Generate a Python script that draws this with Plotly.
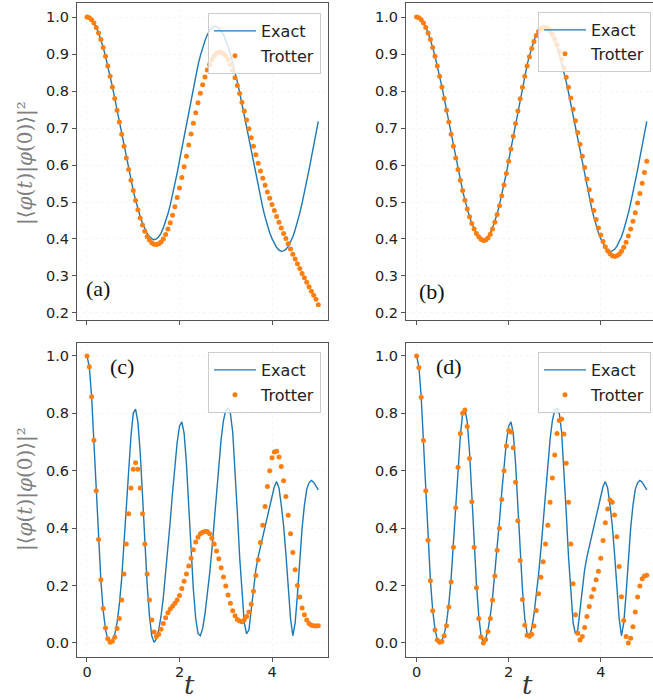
import plotly.graph_objects as go

# ---------------- data ----------------
T = [0.00, 0.05, 0.10, 0.15, 0.20, 0.25, 0.30, 0.35, 0.40, 0.45,
     0.50, 0.55, 0.60, 0.65, 0.70, 0.75, 0.80, 0.85, 0.90, 0.95,
     1.00, 1.05, 1.10, 1.15, 1.20, 1.25, 1.30, 1.35, 1.40, 1.45,
     1.50, 1.55, 1.60, 1.65, 1.70, 1.75, 1.80, 1.85, 1.90, 1.95,
     2.00, 2.05, 2.10, 2.15, 2.20, 2.25, 2.30, 2.35, 2.40, 2.45,
     2.50, 2.55, 2.60, 2.65, 2.70, 2.75, 2.80, 2.85, 2.90, 2.95,
     3.00, 3.05, 3.10, 3.15, 3.20, 3.25, 3.30, 3.35, 3.40, 3.45,
     3.50, 3.55, 3.60, 3.65, 3.70, 3.75, 3.80, 3.85, 3.90, 3.95,
     4.00, 4.05, 4.10, 4.15, 4.20, 4.25, 4.30, 4.35, 4.40, 4.45,
     4.50, 4.55, 4.60, 4.65, 4.70, 4.75, 4.80, 4.85, 4.90, 4.95,
     5.00]

exact_ab = [1.000, 0.998, 0.993, 0.984, 0.972, 0.957, 0.939, 0.918, 0.894, 0.868,
            0.840, 0.811, 0.780, 0.748, 0.716, 0.683, 0.651, 0.619, 0.588, 0.559,
            0.531, 0.505, 0.481, 0.460, 0.442, 0.427, 0.415, 0.407, 0.401, 0.398,
            0.400, 0.406, 0.416, 0.430, 0.448, 0.468, 0.492, 0.519, 0.548, 0.579,
            0.612, 0.645, 0.680, 0.714, 0.748, 0.781, 0.812, 0.842, 0.870, 0.895,
            0.917, 0.936, 0.952, 0.963, 0.971, 0.975, 0.974, 0.970, 0.963, 0.952,
            0.938, 0.921, 0.901, 0.878, 0.852, 0.825, 0.796, 0.765, 0.733, 0.701,
            0.668, 0.635, 0.602, 0.571, 0.540, 0.512, 0.485, 0.459, 0.437, 0.417,
            0.401, 0.387, 0.377, 0.370, 0.367, 0.368, 0.372, 0.380, 0.391, 0.406,
            0.425, 0.446, 0.470, 0.497, 0.525, 0.556, 0.587, 0.620, 0.653, 0.687,
            0.718]

trotter_a = [1.000, 0.998, 0.993, 0.984, 0.972, 0.957, 0.939, 0.918, 0.894, 0.868,
             0.840, 0.811, 0.780, 0.748, 0.716, 0.683, 0.651, 0.619, 0.588, 0.559,
             0.531, 0.504, 0.479, 0.457, 0.438, 0.421, 0.407, 0.397, 0.390, 0.386,
             0.385, 0.387, 0.392, 0.400, 0.412, 0.427, 0.444, 0.464, 0.487, 0.512,
             0.538, 0.566, 0.595, 0.624, 0.654, 0.684, 0.713, 0.741, 0.768, 0.794,
             0.817, 0.838, 0.857, 0.872, 0.885, 0.895, 0.902, 0.905, 0.904, 0.901,
             0.895, 0.885, 0.872, 0.856, 0.836, 0.815, 0.793, 0.770, 0.746, 0.722,
             0.698, 0.674, 0.651, 0.628, 0.605, 0.584, 0.564, 0.545, 0.527, 0.510,
             0.493, 0.477, 0.461, 0.445, 0.430, 0.415, 0.401, 0.387, 0.373, 0.359,
             0.346, 0.333, 0.320, 0.307, 0.295, 0.283, 0.271, 0.259, 0.248, 0.237,
             0.222]

trotter_b = [1.000, 0.998, 0.993, 0.984, 0.972, 0.957, 0.939, 0.918, 0.894, 0.868,
             0.840, 0.811, 0.780, 0.748, 0.716, 0.683, 0.651, 0.619, 0.588, 0.559,
             0.531, 0.505, 0.481, 0.460, 0.442, 0.427, 0.415, 0.406, 0.399, 0.396,
             0.397, 0.403, 0.413, 0.427, 0.445, 0.466, 0.490, 0.517, 0.546, 0.577,
             0.610, 0.643, 0.678, 0.712, 0.746, 0.779, 0.810, 0.840, 0.868, 0.893,
             0.915, 0.934, 0.950, 0.961, 0.969, 0.972, 0.972, 0.969, 0.963, 0.953,
             0.941, 0.925, 0.907, 0.886, 0.863, 0.837, 0.810, 0.781, 0.751, 0.720,
             0.688, 0.656, 0.624, 0.593, 0.562, 0.533, 0.504, 0.477, 0.453, 0.430,
             0.411, 0.393, 0.379, 0.368, 0.360, 0.355, 0.353, 0.355, 0.359, 0.367,
             0.378, 0.391, 0.408, 0.427, 0.448, 0.471, 0.497, 0.523, 0.551, 0.580,
             0.610]

exact_cd = [1.000, 0.962, 0.858, 0.706, 0.532, 0.360, 0.218, 0.114, 0.047, 0.011,
            0.002, 0.008, 0.030, 0.070, 0.135, 0.225, 0.345, 0.475, 0.605, 0.720,
            0.800, 0.815, 0.770, 0.665, 0.515, 0.355, 0.205, 0.095, 0.025, 0.002,
            0.014, 0.045, 0.093, 0.158, 0.240, 0.330, 0.425, 0.525, 0.620, 0.700,
            0.755, 0.770, 0.730, 0.625, 0.475, 0.325, 0.185, 0.085, 0.033, 0.025,
            0.050, 0.100, 0.165, 0.240, 0.325, 0.420, 0.520, 0.620, 0.710, 0.775,
            0.810, 0.818, 0.800, 0.735, 0.610, 0.455, 0.300, 0.165, 0.070, 0.032,
            0.045, 0.115, 0.190, 0.255, 0.300, 0.335, 0.365, 0.398, 0.430, 0.465,
            0.505, 0.545, 0.562, 0.540, 0.480, 0.410, 0.310, 0.185, 0.085, 0.025,
            0.070, 0.170, 0.300, 0.400, 0.480, 0.535, 0.558, 0.566, 0.560, 0.548,
            0.533]

trotter_c = [1.000, 0.962, 0.858, 0.706, 0.530, 0.360, 0.220, 0.120, 0.052, 0.015,
             0.002, 0.006, 0.020, 0.050, 0.085, 0.150, 0.240, 0.345, 0.450, 0.540,
             0.605, 0.628, 0.605, 0.540, 0.450, 0.345, 0.240, 0.150, 0.080, 0.038,
             0.022, 0.030, 0.048, 0.068, 0.088, 0.105, 0.118, 0.128, 0.138, 0.150,
             0.165, 0.190, 0.215, 0.240, 0.268, 0.295, 0.325, 0.352, 0.368, 0.380,
             0.386, 0.388, 0.388, 0.380, 0.365, 0.345, 0.320, 0.293, 0.262, 0.230,
             0.198, 0.167, 0.138, 0.112, 0.095, 0.082, 0.076, 0.074, 0.080, 0.092,
             0.108, 0.135, 0.180, 0.235, 0.290, 0.350, 0.410, 0.475, 0.545, 0.600,
             0.645, 0.665, 0.668, 0.648, 0.615, 0.565, 0.510, 0.445, 0.380, 0.315,
             0.255, 0.200, 0.160, 0.122, 0.098, 0.080, 0.068, 0.062, 0.060, 0.059,
             0.060]

trotter_d = [1.000, 0.960, 0.856, 0.705, 0.530, 0.358, 0.217, 0.112, 0.045, 0.010,
             0.002, 0.005, 0.025, 0.060, 0.125, 0.212, 0.333, 0.471, 0.612, 0.730,
             0.800, 0.812, 0.754, 0.643, 0.492, 0.333, 0.192, 0.085, 0.021, 0.000,
             0.012, 0.040, 0.085, 0.150, 0.233, 0.323, 0.400, 0.500, 0.600, 0.686,
             0.740, 0.735, 0.680, 0.560, 0.426, 0.287, 0.151, 0.062, 0.027, 0.023,
             0.030, 0.059, 0.113, 0.171, 0.229, 0.283, 0.345, 0.410, 0.490, 0.575,
             0.655, 0.730, 0.775, 0.780, 0.728, 0.626, 0.490, 0.345, 0.206, 0.098,
             0.034, 0.010, 0.022, 0.054, 0.092, 0.127, 0.161, 0.187, 0.220, 0.250,
             0.295, 0.357, 0.419, 0.467, 0.498, 0.490, 0.446, 0.370, 0.266, 0.161,
             0.078, 0.022, 0.000, 0.016, 0.056, 0.108, 0.160, 0.198, 0.224, 0.233,
             0.236]

panel_labels = ["(a)", "(b)", "(c)", "(d)"]
legend_names = ["Exact", "Trotter"]
top_yticks = [0.2, 0.3, 0.4, 0.5, 0.6, 0.7, 0.8, 0.9, 1.0]
bottom_yticks = [0.0, 0.2, 0.4, 0.6, 0.8, 1.0]
xticks = [0, 2, 4]

# ---------------- figure ----------------
W, H = 653, 700
BLUE = "#1f77b4"
ORANGE = "#ff7f0e"

def px(x):
    return x / W

def py(y):
    return 1 - y / H

panels = [
    ("x", "y", exact_ab, trotter_a, "legend"),
    ("x2", "y2", exact_ab, trotter_b, "legend2"),
    ("x3", "y3", exact_cd, trotter_c, "legend3"),
    ("x4", "y4", exact_cd, trotter_d, "legend4"),
]

fig = go.Figure()
for xa, ya, ex, tr, lg in panels:
    fig.add_trace(go.Scatter(x=T, y=ex, mode="lines", name=legend_names[0],
                             line=dict(color=BLUE, width=1.4),
                             xaxis=xa, yaxis=ya, legend=lg, legendgroup=lg + "e"))
    fig.add_trace(go.Scatter(x=T, y=tr, mode="markers", name=legend_names[1],
                             marker=dict(color=ORANGE, size=5, line=dict(width=0)),
                             xaxis=xa, yaxis=ya, legend=lg, legendgroup=lg + "t"))

tickfont = dict(family="DejaVu Sans", size=14.5, color="#222222")
axis_common = dict(showline=True, linecolor="#555555", linewidth=1.2,
                   ticks="outside", ticklen=4, tickwidth=1.1, tickcolor="#555555",
                   tickfont=tickfont, zeroline=False, automargin=False,
                   showgrid=True, gridcolor="rgba(0,0,0,0.035)", griddash="dot",
                   gridwidth=1)

x_left = [px(77), px(328)]
x_right = [px(406), 1.0]
y_top = [py(320), py(3)]
y_bot = [py(657), py(343)]

layout_axes = {}
for name, dom, rng, anchor, labels in [
    ("xaxis", x_left, [-0.216, 5.21], "y", False),
    ("xaxis2", x_right, [-0.23, 5.135], "y2", False),
    ("xaxis3", x_left, [-0.216, 5.21], "y3", True),
    ("xaxis4", x_right, [-0.23, 5.135], "y4", True),
]:
    layout_axes[name] = dict(axis_common, domain=dom, range=rng, anchor=anchor,
                             tickvals=xticks, showticklabels=labels, mirror=True,
                             ticklabelstandoff=-3)

for name, dom, rng, anchor, tv, fmt, mir in [
    ("yaxis", y_top, [0.181, 1.038], "x", top_yticks, ".1f", True),
    ("yaxis2", y_top, [0.181, 1.038], "x2", top_yticks, ".1f", False),
    ("yaxis3", y_bot, [-0.049, 1.045], "x3", bottom_yticks, ".1f", True),
    ("yaxis4", y_bot, [-0.049, 1.045], "x4", bottom_yticks, ".1f", False),
]:
    layout_axes[name] = dict(axis_common, domain=dom, range=rng, anchor=anchor,
                             tickvals=tv, tickformat=fmt, mirror=mir)

legend_style = dict(bgcolor="rgba(255,255,255,0.8)", bordercolor="#cccccc",
                    borderwidth=1, font=dict(family="DejaVu Sans", size=16, color="#222222"),
                    xanchor="right", yanchor="top", tracegroupgap=1,
                    itemwidth=42)

legends = {
    "legend": dict(legend_style, x=px(321), y=py(13)),
    "legend2": dict(legend_style, x=px(651), y=py(12), tracegroupgap=0),
    "legend3": dict(legend_style, x=px(321), y=py(352)),
    "legend4": dict(legend_style, x=px(651), y=py(352)),
}

annotations = []
for lab, (cx, cy) in zip(panel_labels, [(98, 289), (432, 291), (122, 367), (449, 367)]):
    annotations.append(dict(text=lab, x=px(cx), y=py(cy), xref="paper", yref="paper",
                            showarrow=False, xanchor="center", yanchor="middle",
                            font=dict(family="Liberation Serif", size=22, color="#111111")))

ytitle = "|⟨<i>φ</i>(<i>t</i>)|<i>φ</i>(0)⟩|²"
for cy in [163, 489]:
    annotations.append(dict(text=ytitle, x=px(25), y=py(cy), xref="paper", yref="paper",
                            showarrow=False, textangle=-90, xanchor="center", yanchor="middle",
                            font=dict(family="DejaVu Serif", size=20, color="#808080")))

for cx in [189, 527]:
    annotations.append(dict(text="<i>t</i>", x=px(cx), y=py(685), xref="paper", yref="paper",
                            showarrow=False, xanchor="center", yanchor="middle",
                            font=dict(family="DejaVu Serif", size=26, color="#333333")))

fig.update_layout(
    width=W, height=H, autosize=False,
    margin=dict(l=0, r=0, t=0, b=0),
    paper_bgcolor="white", plot_bgcolor="white",
    annotations=annotations,
    **layout_axes, **legends,
)

fig.write_html(
    "out.html",
    config={"displayModeBar": False},
    post_script="document.body.style.margin='0';document.body.style.overflow='hidden';",
)
